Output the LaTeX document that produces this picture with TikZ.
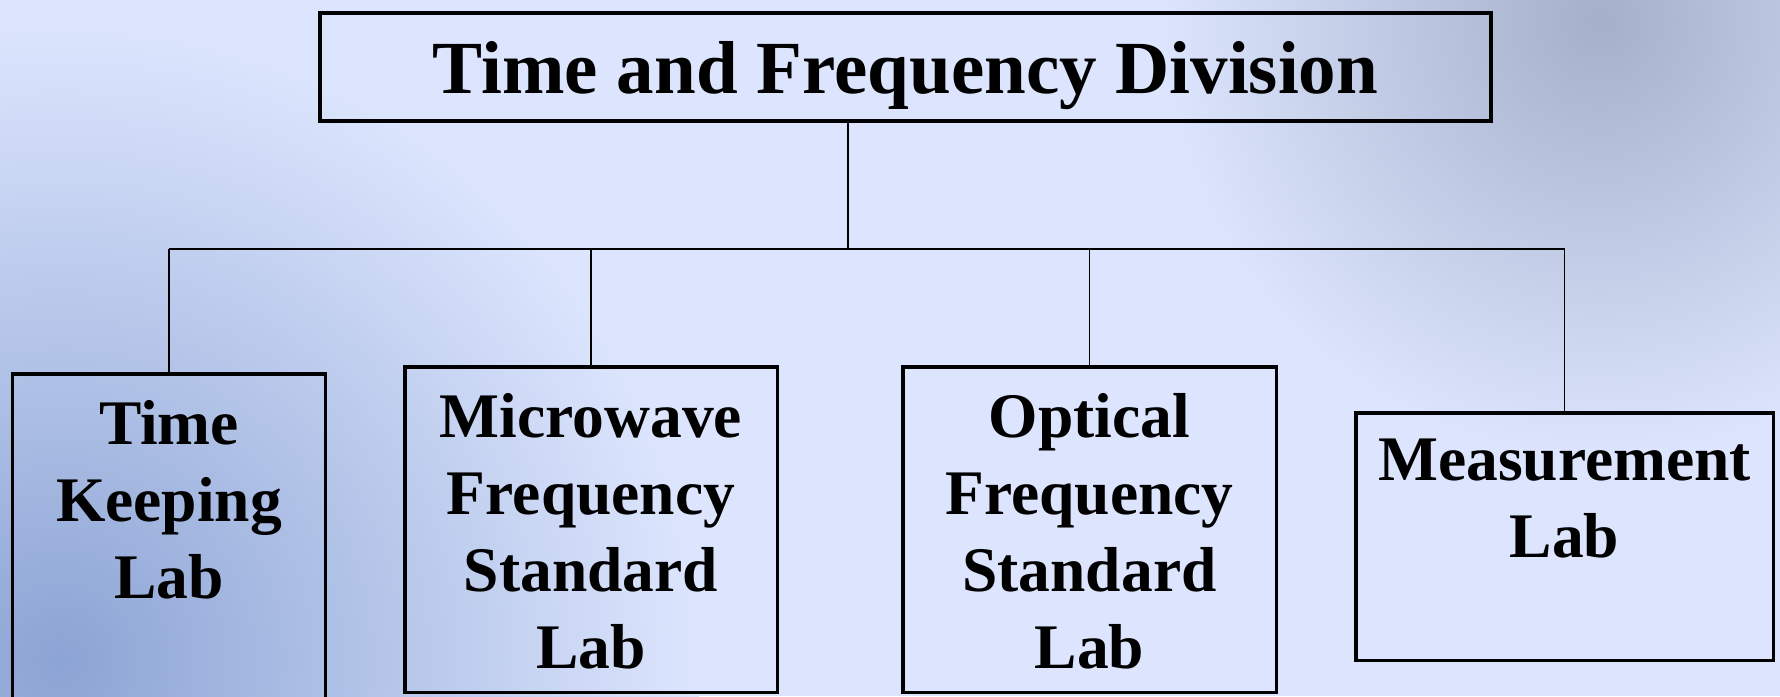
\documentclass[tikz,border=0pt]{standalone}
\usepackage{fontspec}
\setmainfont{Liberation Serif}
\usepackage{tikz}
\usetikzlibrary{positioning,calc}
\definecolor{slidebg}{RGB}{220,229,253}
\definecolor{photoblue}{RGB}{140,164,212}
\definecolor{photogray}{RGB}{165,175,202}
\tikzstyle{headbox}=[draw=black,line width=1.6pt,inner sep=0pt,font=\bfseries\fontsize{30}{36}\selectfont,text height=20.8pt,text depth=0pt]
\tikzstyle{labbox}=[draw=black,line width=1.4pt,inner sep=0pt,anchor=north]
\tikzstyle{labtext}=[align=center,inner sep=0pt,font=\bfseries\fontsize{25.4}{30.8}\selectfont]
\tikzstyle{link}=[draw=black,line width=0.6pt]

\begin{document}
\begin{tikzpicture}[x=0.4pt,y=-0.4pt]
		% background
		\useasboundingbox (0,0) rectangle (1780,696);
		\clip (0,0) rectangle (1780,696);
		\fill[slidebg] (0,0) rectangle (1780,696);
		\shade[inner color=photoblue,outer color=slidebg] (60,660) circle (640);
		\shade[inner color=photogray,outer color=slidebg] (1600,20) circle (440);

		% division
		\node[headbox,minimum width=468.4pt,minimum height=43.2pt] (tfd) at (905.5,67)
			{Time and Frequency Division};

		% labs
		\node[labbox,minimum width=125pt,minimum height=143.6pt] (tkl) at (169,372) {};
		\node[labbox,minimum width=149pt,minimum height=130.2pt] (mfs) at (591,365) {};
		\node[labbox,minimum width=149.4pt,minimum height=130.2pt] (ofs) at (1089.5,365) {};
		\node[labbox,minimum width=167pt,minimum height=99pt] (mel) at (1564.5,411) {};

		\node[labtext,below=11pt of tkl.north] (tkl-txt) {Time\\Keeping\\Lab};
		\node[labtext,below=11pt of mfs.north] (mfs-txt) {Microwave\\Frequency\\Standard\\Lab};
		\node[labtext,below=11pt of ofs.north] (ofs-txt) {Optical\\Frequency\\Standard\\Lab};
		\node[labtext,below=11pt of mel.north] (mel-txt) {Measurement\\Lab};

		% tree lines
		\coordinate (hub) at (848,249);
		\draw[link] (hub |- tfd.south) -- (hub);
		\draw[link] (tkl.north |- hub) -- (mel.north |- hub);
		\foreach \lab in {tkl,mfs,ofs,mel}
			\draw[link] (\lab.north |- hub) -- (\lab.north);
	\end{tikzpicture}
\end{document}
